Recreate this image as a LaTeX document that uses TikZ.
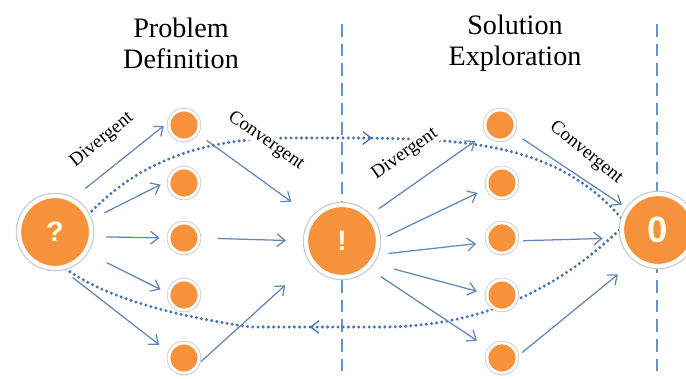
\documentclass[tikz,border=0pt]{standalone}
\usepackage{fontspec}
\setmainfont{Liberation Serif}
\setsansfont{Liberation Sans}
\usetikzlibrary{arrows.meta, shadows}
\definecolor{dotorange}{RGB}{246,146,60}
\definecolor{flowblue}{RGB}{98,136,184}
\definecolor{loopblue}{RGB}{72,116,182}
\definecolor{sepblue}{RGB}{104,146,198}
\tikzset{
  bigvtx/.style  ={draw=white, circle, minimum size=1.8cm, inner sep=0pt, fill=dotorange, line width=3pt,
                   text=white!92!yellow, font=\sffamily\bfseries\fontsize{20}{20}\selectfont,
                   preaction={draw=black!22, line width=4.6pt},
                   drop shadow={shadow xshift=0.5pt, shadow yshift=-0.7pt, opacity=0.25, shadow scale=1.02}},
  smallvtx/.style={draw=white, circle, minimum size=0.75cm, inner sep=0pt, fill=dotorange, line width=2pt,
                   preaction={draw=black!20, line width=3.2pt},
                   drop shadow={shadow xshift=0.4pt, shadow yshift=-0.6pt, opacity=0.25, shadow scale=1.04}},
  flow/.style    ={-{Straight Barb[length=2mm, width=3.2mm]}, line width=0.9pt, flowblue},      % idea -> idea
  gap/.style 2 args={shorten <=#1mm, shorten >=#2mm},
  loopline/.style={line width=2.4pt, loopblue, dash pattern=on 0pt off 3.7pt, line cap=round},  % iteration loop
  looptip/.style ={-{Straight Barb[length=2mm, width=3.2mm, line width=0.9pt]}},
  divider/.style ={line width=1.1pt, sepblue, dash pattern=on 9pt off 5pt},
  phase/.style   ={align=center, font=\fontsize{20}{22}\selectfont},
  mode/.style    ={font=\fontsize{13.5}{14}\selectfont, fill=white, inner sep=0.5pt},
}

\begin{document}
\begin{tikzpicture}[x=0.025cm, y=-0.025cm]
  \useasboundingbox (0,0) rectangle (686,378);

  % phase titles and separators
  \node[phase] (pd) at (181,43) {Problem\\Definition};
  \node[phase] (se) at (515,43) {Solution\\Exploration};
  \draw[divider] (342,24) -- (342,378);
  \draw[divider] (657,24) -- (657,378);

  \coordinate (fwd)  at (372,138);
  \coordinate (back) at (310,327);
  \coordinate (q0)   at (55,232);
  \coordinate (o0)   at (658,230);

  % iteration loop behind everything
  \draw[loopline, looptip] ([shift={(100:38)}]q0) .. controls (110,162) and (200,138) .. (290,138) -- (fwd);
  \draw[loopline] (fwd) -- (410,139) .. controls (520,143) and (600,165) .. ([shift={(95:38)}]o0);
  \draw[loopline, looptip] ([shift={(265:38)}]o0) .. controls (560,305) and (460,327) .. (380,327) -- (back);
  \draw[loopline] (back) -- (250,327) .. controls (150,312) and (45,285) .. ([shift={(210:38)}]q0);

  \node[mode, rotate=39]  (div1) at (102,140) {Divergent};
  \node[mode, rotate=-35] (con1) at (266,141) {Convergent};
  \node[mode, rotate=35]  (div2) at (405,154) {Divergent};
  \node[mode, rotate=-39] (con2) at (586,153) {Convergent};

  % problem, idea and solution nodes
  \node[bigvtx] (q)  at (q0)      {?};
  \node[bigvtx] (ex) at (342,241) {!};
  \node[bigvtx, font=\sffamily\bfseries\fontsize{26}{26}\selectfont] (oo) at (o0) {0};

  \node[smallvtx] (a1) at (184,125) {};
  \node[smallvtx] (a2) at (184,183) {};
  \node[smallvtx] (a3) at (184,238) {};
  \node[smallvtx] (a4) at (184,295) {};
  \node[smallvtx] (a5) at (184,358) {};

  \node[smallvtx] (b1) at (500,125) {};
  \node[smallvtx] (b2) at (502,183) {};
  \node[smallvtx] (b3) at (502,238) {};
  \node[smallvtx] (b4) at (502,295) {};
  \node[smallvtx] (b5) at (502,358) {};

  % divergent fan out of the problem
  \draw[flow, gap={4}{1.25}]   (q.62)  -- (a1.172);
  \draw[flow, gap={3.75}{2}]   (q.19)  -- (a2.173);
  \draw[flow, gap={3.25}{2}]   (q.-7)  -- (a3.180);
  \draw[flow, gap={5.5}{2}]    (q.-33) -- (a4.173);
  \draw[flow, gap={3.25}{3}]   (q.-79) -- (a5.159);
  % convergent into the definition
  \draw[flow, gap={2.75}{6.5}] (a1.-33) -- (ex.141);
  \draw[flow, gap={4.25}{4.5}] (a3.0)   -- (ex.180);
  \draw[flow, gap={0.5}{8.5}]  (a5.-17) -- (ex.214);
  % divergent fan out of the definition
  \draw[flow, gap={2.75}{3.25}] (ex.43)  -- (b1.211);
  \draw[flow, gap={2}{2.5}]     (ex.2.5) -- (b2.200);
  \draw[flow, gap={2.75}{2.5}]  (ex.-21) -- (b3.196);
  \draw[flow, gap={5.5}{2.25}]  (ex.-36) -- (b4.175);
  \draw[flow, gap={3.75}{3.5}]  (ex.-46) -- (b5.144);
  % convergent into the solution
  \draw[flow, gap={2.5}{1.5}]  (b1.-30) -- (oo.145);
  \draw[flow, gap={1.25}{4.5}] (b3.-10) -- (oo.192);
  \draw[flow, gap={1.25}{5.5}] (b5.8)   -- (oo.233);
\end{tikzpicture}
\end{document}
